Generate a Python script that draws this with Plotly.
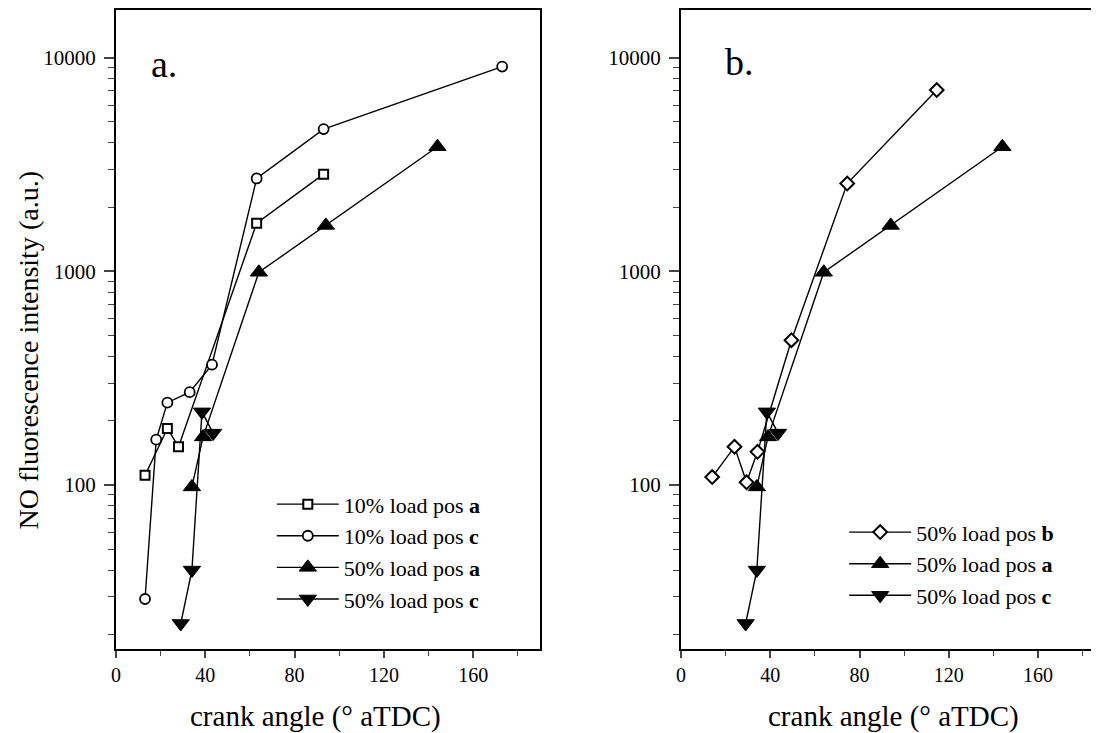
import plotly.graph_objects as go

# ---- data ----
# panel a
a10_x = [13, 23, 28, 63, 93]
a10_y = [111, 184, 151, 1680, 2850]
c10_x = [13, 18, 23, 33, 43, 63, 93, 173]
c10_y = [29.3, 163, 243, 272, 366, 2720, 4630, 9080]
a50_x = [34, 39, 64, 94, 144]
a50_y = [98, 168, 990, 1640, 3830]
c50_x = [29, 34, 38.5, 43.5]
c50_y = [22.5, 40, 220, 175]
# panel b
b50_x = [14, 24, 29.4, 34.3, 49.5, 74.5, 114.6]
b50_y = [109, 151, 103, 143, 476, 2575, 7050]

y_major = [100, 1000, 10000]
y_major_text = ["100", "1000", "10000"]
y_minor = [m * d for d in (10, 100, 1000) for m in range(2, 10)]

# page offset of the plot div (browser default body margin)
OX, OY = 8, 8
W, H = 1099 - OX, 733 - OY
FONT = "Liberation Serif, Times New Roman, serif"

def fx(x):
    return (x - OX) / W

def fy(y):
    return 1 - (y - OY) / H

fig = go.Figure()

def add(x, y, name, symbol, size, filled, xa, ya, legend, mlw):
    fig.add_trace(go.Scatter(
        x=x, y=y, name=name, mode="lines+markers",
        line=dict(color="black", width=1.4),
        marker=dict(symbol=symbol, size=size,
                    color="black" if filled else "white",
                    line=dict(color="black", width=mlw)),
        xaxis=xa, yaxis=ya, legend=legend, legendgroup=legend + name,
    ))

add(a10_x, a10_y, "10% load pos <b>a</b>", "square", 9, False, "x", "y", "legend", 2)
add(c10_x, c10_y, "10% load pos <b>c</b>", "circle", 10, False, "x", "y", "legend", 1.8)
add(a50_x, a50_y, "50% load pos <b>a</b>", "triangle-up", 15, True, "x", "y", "legend", 1)
add(c50_x, c50_y, "50% load pos <b>c</b>", "triangle-down", 15, True, "x", "y", "legend", 1)

add(b50_x, b50_y, "50% load pos <b>b</b>", "diamond", 10.5, False, "x2", "y2", "legend2", 2)
add(a50_x, a50_y, "50% load pos <b>a</b>", "triangle-up", 15, True, "x2", "y2", "legend2", 1)
add(c50_x, c50_y, "50% load pos <b>c</b>", "triangle-down", 15, True, "x2", "y2", "legend2", 1)

px_per_unit = 2.2425
a_x0 = 111.5
a_xmax = 190
b_x0 = 679.0
b_xmax = (1099 - b_x0) / px_per_unit

y_bot_px, y_top_px = 649, 9.5
y_dom = [fy(y_bot_px), fy(y_top_px)]
y_rng = [4 - (y_bot_px - 56.7) / 214, 4 + (56.7 - y_top_px) / 214]

xcommon = dict(
    tickmode="linear", tick0=0, dtick=40, ticks="outside", ticklen=7, tickwidth=1.5,
    showgrid=False, zeroline=False, showline=True, linecolor="black", linewidth=2,
    tickfont=dict(family=FONT, size=20, color="black"),
    minor=dict(ticks="outside", ticklen=5, tickwidth=1.3, dtick=20, tick0=0, showgrid=False),
)
ycommon = dict(
    type="log", range=y_rng, domain=y_dom,
    tickmode="array", tickvals=y_major, ticktext=y_major_text,
    ticks="outside", ticklen=10, tickwidth=1.5, ticklabelstandoff=4,
    showgrid=False, zeroline=False, showline=True, linecolor="black", linewidth=2,
    tickfont=dict(family=FONT, size=21, color="black"),
    minor=dict(tickmode="array", tickvals=y_minor, ticks="outside", ticklen=6,
               tickwidth=1.3, showgrid=False),
)

fig.update_layout(
    width=W, height=H,
    margin=dict(l=0, r=0, t=0, b=0),
    paper_bgcolor="white", plot_bgcolor="white",
    font=dict(family=FONT, color="black"),
    xaxis=dict(xcommon, range=[0, a_xmax], mirror=True,
               domain=[fx(a_x0), fx(a_x0 + a_xmax * px_per_unit)], anchor="y"),
    yaxis=dict(ycommon, mirror=True, anchor="x"),
    xaxis2=dict(xcommon, range=[0, b_xmax], mirror=True,
                domain=[fx(b_x0), 1.0], anchor="y2"),
    yaxis2=dict(ycommon, mirror=False, anchor="x2"),
    legend=dict(x=fx(268), y=fy(483), xanchor="left", yanchor="top",
                bgcolor="rgba(0,0,0,0)", font=dict(family=FONT, size=22, color="black"),
                tracegroupgap=0, itemwidth=62),
    legend2=dict(x=fx(843), y=fy(511), xanchor="left", yanchor="top",
                 bgcolor="rgba(0,0,0,0)", font=dict(family=FONT, size=22, color="black"),
                 tracegroupgap=0, itemwidth=62),
    showlegend=True,
)

def ann(text, x, y, size, angle=0):
    fig.add_annotation(text=text, x=fx(x), y=fy(y), xref="paper", yref="paper",
                       xanchor="center", yanchor="middle", showarrow=False,
                       textangle=angle, font=dict(family=FONT, size=size, color="black"))

ann("a.", 160, 63, 38)
ann("b.", 738, 61, 38)
ann("NO fluorescence intensity (a.u.)", 24, 350, 28, -90)
ann("crank angle (° aTDC)", 312, 716, 29)
ann("crank angle (° aTDC)", 893, 716, 29)

fig.write_html("out.html")
